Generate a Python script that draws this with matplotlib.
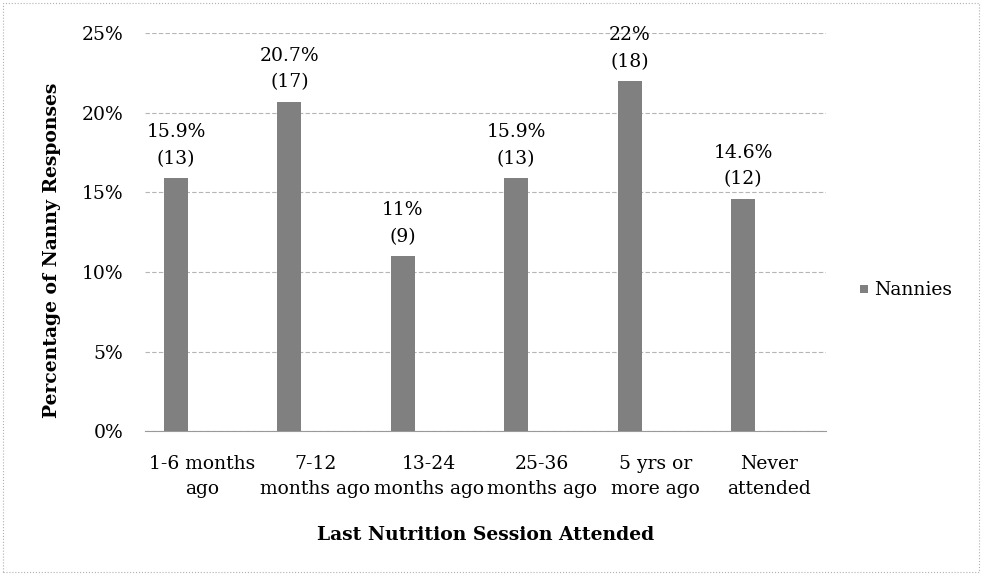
import matplotlib
matplotlib.use("Agg")
import matplotlib.pyplot as plt
from matplotlib.patches import Rectangle

categories = ["1-6 months\nago", "7-12\nmonths ago", "13-24\nmonths ago",
              "25-36\nmonths ago", "5 yrs or\nmore ago", "Never\nattended"]
percents = [15.9, 20.7, 11, 15.9, 22, 14.6]
counts = [13, 17, 9, 13, 18, 12]
pct_text = ["15.9%", "20.7%", "11%", "15.9%", "22%", "14.6%"]
yticks = [0, 5, 10, 15, 20, 25]

plt.rcParams['font.family'] = ['DejaVu Serif']
FS = 13.5

fig = plt.figure(figsize=(9.82, 5.74), dpi=100)
ax = fig.add_axes([0.148, 0.249, 0.693, 0.693])

# bars sit left of category centre (Excel layout with an empty second slot)
x = list(range(len(categories)))
xb = [i - 0.23 for i in x]
bars = ax.bar(xb, percents, width=0.21, color="#808080", edgecolor="none", zorder=3)

for b, p, c in zip(bars, pct_text, counts):
    ax.text(b.get_x() + b.get_width() / 2, b.get_height() + 0.65, f"{p}\n({c})",
            ha="center", va="bottom", fontsize=FS, linespacing=1.6, zorder=4)

ax.set_xlim(-0.5, len(categories) - 0.5)
ax.set_ylim(0, 25)
ax.set_yticks(yticks)
ax.set_yticklabels([f"{t}%" for t in yticks], fontsize=FS)
ax.set_xticks(x)
ax.set_xticklabels(categories, fontsize=FS, linespacing=1.55)
ax.tick_params(axis="y", length=0, pad=16)
ax.tick_params(axis="x", length=0, pad=17)
ax.grid(axis="y", color="#b5b5b5", linewidth=0.8, linestyle=(0, (4, 2)), zorder=0)
for s in ["top", "right", "left"]:
    ax.spines[s].set_visible(False)
ax.spines["bottom"].set_color("#9a9a9a")

ax.set_ylabel("Percentage of Nanny Responses", fontsize=FS, fontweight="bold")
ax.yaxis.set_label_coords(-0.124, 0.455)
ax.set_xlabel("Last Nutrition Session Attended", fontsize=FS, fontweight="bold", labelpad=20)

# legend
fig.patches.append(Rectangle((0.876, 0.489), 0.008, 0.014, transform=fig.transFigure,
                             facecolor="#808080", edgecolor="none"))
fig.text(0.890, 0.495, "Nannies", fontsize=FS, va="center", ha="left")

# outer frame
fig.patches.append(Rectangle((0.003, 0.004), 0.994, 0.99, transform=fig.transFigure,
                             fill=False, edgecolor="#b0b0b0", linewidth=0.8, linestyle=":"))

fig.savefig("out.png", dpi=100)
